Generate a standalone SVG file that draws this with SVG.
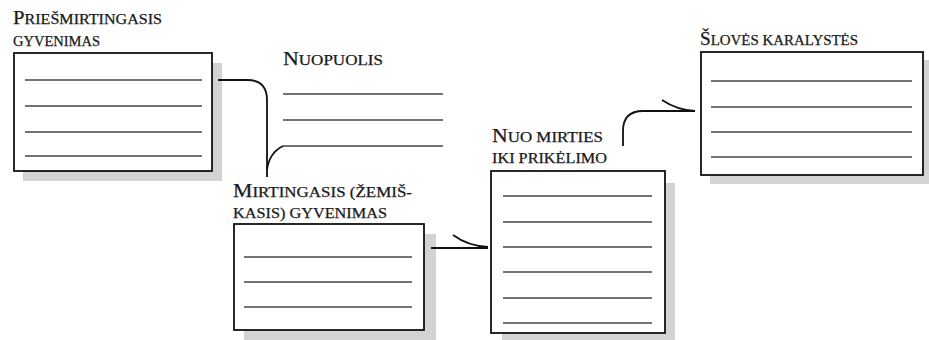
<svg xmlns="http://www.w3.org/2000/svg" width="929" height="340" viewBox="0 0 929 340">
<style>
text{font-family:"Liberation Serif","DejaVu Serif",serif;fill:#1a1a1a;stroke:#1a1a1a;stroke-width:0.25}
.c{font-size:18px}
.s{font-size:14px}
.shadow{fill:#d3d3d4}
.box{fill:#fff;stroke:#111;stroke-width:1.8}
.ln{stroke:#444;stroke-width:1.3}
.con{fill:none;stroke:#111;stroke-width:1.8}
</style>
<rect width="929" height="340" fill="#fff"/>
<g id="node-priesmirtingasis">
<rect class="shadow" x="23" y="63" width="199" height="118"/>
<rect class="box" x="14" y="53" width="198" height="118"/>
<line class="ln" x1="25" y1="80" x2="202" y2="80"/>
<line class="ln" x1="25" y1="106" x2="202" y2="106"/>
<line class="ln" x1="25" y1="132" x2="202" y2="132"/>
<line class="ln" x1="25" y1="156" x2="202" y2="156"/>
<text x="13" y="24" textLength="149" lengthAdjust="spacingAndGlyphs"><tspan class="c">P</tspan><tspan class="s">RIEŠMIRTINGASIS</tspan></text>
<text x="13" y="46" class="s" textLength="87" lengthAdjust="spacingAndGlyphs">GYVENIMAS</text>
</g>
<g id="node-nuopuolis">
<line class="ln" x1="283" y1="94" x2="443" y2="94"/>
<line class="ln" x1="283" y1="120" x2="443" y2="120"/>
<line class="ln" x1="283" y1="146" x2="443" y2="146"/>
<text x="283" y="65" textLength="100" lengthAdjust="spacingAndGlyphs"><tspan class="c">N</tspan><tspan class="s">UOPUOLIS</tspan></text>
</g>
<g id="node-mirtingasis">
<rect class="shadow" x="244" y="234" width="192" height="106"/>
<rect class="box" x="234" y="224" width="190" height="106"/>
<line class="ln" x1="244" y1="257" x2="412" y2="257"/>
<line class="ln" x1="244" y1="282" x2="412" y2="282"/>
<line class="ln" x1="244" y1="307" x2="412" y2="307"/>
<text x="233" y="197" textLength="179" lengthAdjust="spacingAndGlyphs"><tspan class="c">M</tspan><tspan class="s">IRTINGASIS (ŽEMIŠ-</tspan></text>
<text x="233" y="218" class="s" textLength="154" lengthAdjust="spacingAndGlyphs">KASIS) GYVENIMAS</text>
</g>
<g id="node-nuo-mirties">
<rect class="shadow" x="502" y="183" width="173" height="157"/>
<rect class="box" x="491" y="171" width="174" height="162"/>
<line class="ln" x1="503" y1="196" x2="652" y2="196"/>
<line class="ln" x1="503" y1="222" x2="652" y2="222"/>
<line class="ln" x1="503" y1="247" x2="652" y2="247"/>
<line class="ln" x1="503" y1="272" x2="652" y2="272"/>
<line class="ln" x1="503" y1="298" x2="652" y2="298"/>
<line class="ln" x1="503" y1="323" x2="652" y2="323"/>
<text x="492" y="142" textLength="111" lengthAdjust="spacingAndGlyphs"><tspan class="c">N</tspan><tspan class="s">UO MIRTIES</tspan></text>
<text x="492" y="163" class="s" textLength="115" lengthAdjust="spacingAndGlyphs">IKI PRIKĖLIMO</text>
</g>
<g id="node-sloves">
<rect class="shadow" x="710" y="60" width="219" height="124"/>
<rect class="box" x="701" y="52" width="222" height="123"/>
<line class="ln" x1="711" y1="81" x2="912" y2="81"/>
<line class="ln" x1="711" y1="107" x2="912" y2="107"/>
<line class="ln" x1="711" y1="132" x2="912" y2="132"/>
<line class="ln" x1="711" y1="157" x2="912" y2="157"/>
<text x="700" y="45" textLength="158" lengthAdjust="spacingAndGlyphs"><tspan class="c">Š</tspan><tspan class="s">LOVĖS KARALYSTĖS</tspan></text>
</g>
<g id="connectors">
<path class="con" d="M218,80 H247 Q267,80 267,100 V177"/>
<path class="con" d="M267,170 Q269,153 283,146"/>
<path class="con" d="M431,248 H488"/>
<path class="con" d="M453,235 Q468,246 488,247"/>
<path class="con" d="M623,146 V131 Q623,111 643,111 H695"/>
<path class="con" d="M662,100 Q677,110 695,111"/>
</g>
</svg>
